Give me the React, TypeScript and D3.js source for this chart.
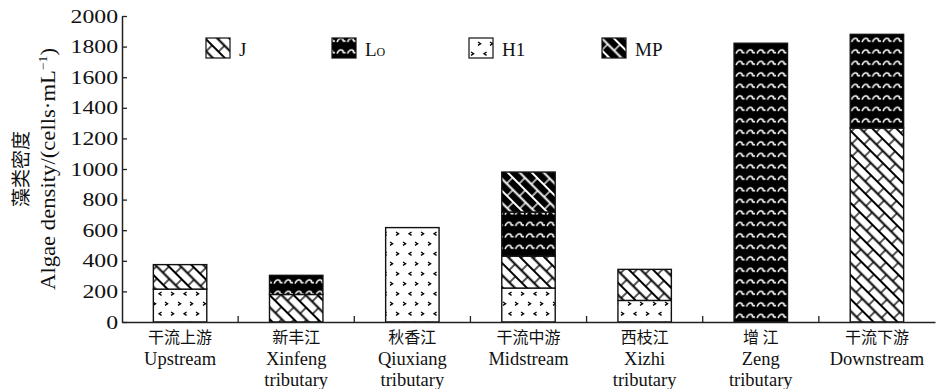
import { useEffect, useRef } from 'react';
import * as d3 from 'd3';

// Sites along the river (Chinese + English lines)
const sitesZh = ['干流上游', '新丰江', '秋香江', '干流中游', '西枝江', '增 江', '干流下游'];
const sitesEn = [
  ['Upstream'],
  ['Xinfeng', 'tributary'],
  ['Qiuxiang', 'tributary'],
  ['Midstream'],
  ['Xizhi', 'tributary'],
  ['Zeng', 'tributary'],
  ['Downstream'],
];

// Algae density by group (cells/mL), bottom to top of each stack
const groups = ['H1', 'J', 'Lo', 'MP'];
const h1Values = [215, 0, 617, 222, 141, 0, 0];
const jValues = [160, 180, 0, 209, 203, 0, 1268];
const loValues = [0, 125, 0, 288, 0, 1822, 612];
const mpValues = [0, 0, 0, 261, 0, 0, 0];

const yTicks = [0, 200, 400, 600, 800, 1000, 1200, 1400, 1600, 1800, 2000];
const legendOrder = ['J', 'Lo', 'H1', 'MP'];

const SERIF = "'Liberation Serif', 'Times New Roman', serif";
const CJK = "'Noto Sans CJK SC', sans-serif";

export default function App() {
  const svgRef = useRef<SVGSVGElement | null>(null);

  useEffect(() => {
    if (!svgRef.current) return;
    const W = 938;
    const H = 389;
    const left = 122, right = 935, top = 16, bottom = 322;

    const svg = d3.select(svgRef.current).attr('width', W).attr('height', H);
    svg.selectAll('*').remove();

    const rows = sitesZh.map((s, i) => ({
      site: s,
      H1: h1Values[i],
      J: jValues[i],
      Lo: loValues[i],
      MP: mpValues[i],
    }));

    const x = d3.scaleBand<string>()
      .domain(sitesZh)
      .range([left, right])
      .paddingInner(0.54)
      .paddingOuter(0.27);
    const y = d3.scaleLinear().domain([0, 2000]).range([bottom, top]);

    // Patterns
    const defs = svg.append('defs');

    // diagonal "chain" hatch: long \ strokes with short cross links
    const chain = (id: string, bg: string, fg: string) => {
      const p = defs.append('pattern')
        .attr('id', id)
        .attr('patternUnits', 'userSpaceOnUse')
        .attr('width', 18)
        .attr('height', 17)
        .attr('patternTransform', 'rotate(45)');
      p.append('rect').attr('width', 18).attr('height', 17).attr('fill', bg);
      p.append('path')
        .attr('d', 'M0,1H18M0,9.5H18')
        .attr('stroke', fg)
        .attr('stroke-width', 2)
        .attr('fill', 'none');
      p.append('path')
        .attr('d', 'M2,1V9.5M11,9.5V17')
        .attr('stroke', fg)
        .attr('stroke-width', 1.3)
        .attr('fill', 'none');
    };
    chain('pat-J', '#fff', '#000');
    chain('pat-MP', '#000', '#fff');

    const wave = defs.append('pattern')
      .attr('id', 'pat-Lo')
      .attr('patternUnits', 'userSpaceOnUse')
      .attr('width', 10.5)
      .attr('height', 11.5);
    wave.append('rect').attr('width', 10.5).attr('height', 11.5).attr('fill', '#000');
    wave.append('path')
      .attr('d', 'M1,7.5 C2.5,4 5,2.8 7,4.8 C6.2,6.3 7.6,7 9.5,6.4')
      .attr('stroke', '#fff')
      .attr('stroke-width', 1.6)
      .attr('fill', 'none');

    const dots = defs.append('pattern')
      .attr('id', 'pat-H1')
      .attr('patternUnits', 'userSpaceOnUse')
      .attr('width', 25)
      .attr('height', 20);
    dots.append('rect').attr('width', 25).attr('height', 20).attr('fill', '#fff');
    const gt = 'l2.6,1.7l-2.6,1.7';
    const lt = 'm2.6,0l-2.6,1.7l2.6,1.7';
    dots.append('path')
      .attr('d', `M3,2${gt}M15,2${gt}M9,12${lt}M21,12${gt}`)
      .attr('stroke', '#000')
      .attr('stroke-width', 1.3)
      .attr('fill', 'none');

    // Stacked bars
    const series = d3.stack<any>().keys(groups)(rows);
    series.forEach(s => {
      svg.append('g')
        .selectAll('rect')
        .data(s.filter(d => d[1] - d[0] > 0))
        .join('rect')
        .attr('x', d => x(d.data.site) as number)
        .attr('width', x.bandwidth())
        .attr('y', d => y(d[1]))
        .attr('height', d => y(d[0]) - y(d[1]))
        .attr('fill', `url(#pat-${s.key})`)
        .attr('stroke', '#111')
        .attr('stroke-width', 1.4);
    });

    // Y axis
    const yAxis = svg.append('g')
      .attr('transform', `translate(${left},0)`)
      .call(
        d3.axisLeft(y)
          .tickValues(yTicks)
          .tickFormat(d3.format('d'))
          .tickSizeInner(-5)
          .tickSizeOuter(0)
          .tickPadding(4)
      );
    yAxis.select('.domain').attr('stroke', '#222').attr('stroke-width', 1.5);
    yAxis.selectAll('.tick line').attr('stroke', '#222').attr('stroke-width', 1.3);
    yAxis.selectAll('.tick text')
      .attr('fill', '#111')
      .attr('font-size', '19px')
      .attr('font-family', SERIF)
      .attr('x', -4 / 1.25)
      .attr('transform', 'scale(1.25,1)');

    // X axis
    const xAxis = svg.append('g')
      .attr('transform', `translate(0,${bottom})`)
      .call(d3.axisBottom(x).tickSize(0).tickSizeOuter(0).tickFormat(() => ''));
    xAxis.select('.domain').attr('stroke', '#222').attr('stroke-width', 1.5);
    xAxis.selectAll('.tick').remove();
    xAxis.selectAll('line.sep')
      .data(d3.range(1, sitesZh.length))
      .join('line')
      .attr('class', 'sep')
      .attr('x1', i => left + i * x.step())
      .attr('x2', i => left + i * x.step())
      .attr('y1', 0)
      .attr('y2', -6)
      .attr('stroke', '#222')
      .attr('stroke-width', 1.3);

    // Category labels
    sitesZh.forEach((s, i) => {
      const cx = (x(s) as number) + x.bandwidth() / 2;
      svg.append('text')
        .attr('x', cx)
        .attr('y', 343)
        .attr('text-anchor', 'middle')
        .attr('font-family', CJK)
        .attr('font-size', '16px')
        .attr('fill', '#111')
        .text(s);
      sitesEn[i].forEach((line, k) => {
        svg.append('text')
          .attr('x', cx)
          .attr('y', 365 + k * 21)
          .attr('text-anchor', 'middle')
          .attr('font-family', SERIF)
          .attr('font-size', '18.5px')
          .attr('fill', '#111')
          .text(line);
      });
    });

    // Y title
    svg.append('text')
      .attr('transform', 'translate(28,169) rotate(-90)')
      .attr('text-anchor', 'middle')
      .attr('font-family', CJK)
      .attr('font-size', '19px')
      .attr('fill', '#111')
      .text('藻类密度');
    const yt = svg.append('text')
      .attr('transform', 'translate(55,169) rotate(-90)')
      .attr('text-anchor', 'middle')
      .attr('font-family', SERIF)
      .attr('font-size', '20px')
      .attr('fill', '#111')
      .attr('textLength', 242)
      .attr('lengthAdjust', 'spacingAndGlyphs');
    yt.append('tspan').text('Algae density/(cells·mL');
    yt.append('tspan').attr('font-size', '12px').attr('dy', -8).text('−1');
    yt.append('tspan').attr('dy', 8).text(')');

    // Legend
    const legendX: Record<string, number> = { J: 206, Lo: 332, H1: 469, MP: 602 };
    legendOrder.forEach(k => {
      const lx = legendX[k];
      svg.append('rect')
        .attr('x', lx)
        .attr('y', 38)
        .attr('width', 24)
        .attr('height', 20)
        .attr('fill', `url(#pat-${k})`)
        .attr('stroke', '#111')
        .attr('stroke-width', 1.2);
      const t = svg.append('text')
        .attr('x', lx + 33)
        .attr('y', 56)
        .attr('font-family', SERIF)
        .attr('font-size', '19px')
        .attr('fill', '#111');
      if (k === 'Lo') {
        t.append('tspan').text('L');
        t.append('tspan').attr('font-size', '12px').text('O');
      } else {
        t.text(k);
      }
    });
  }, []);

  return (
    <svg
      ref={svgRef}
      style={{ position: 'absolute', left: 0, top: 0, background: '#fff' }}
    />
  );
}
